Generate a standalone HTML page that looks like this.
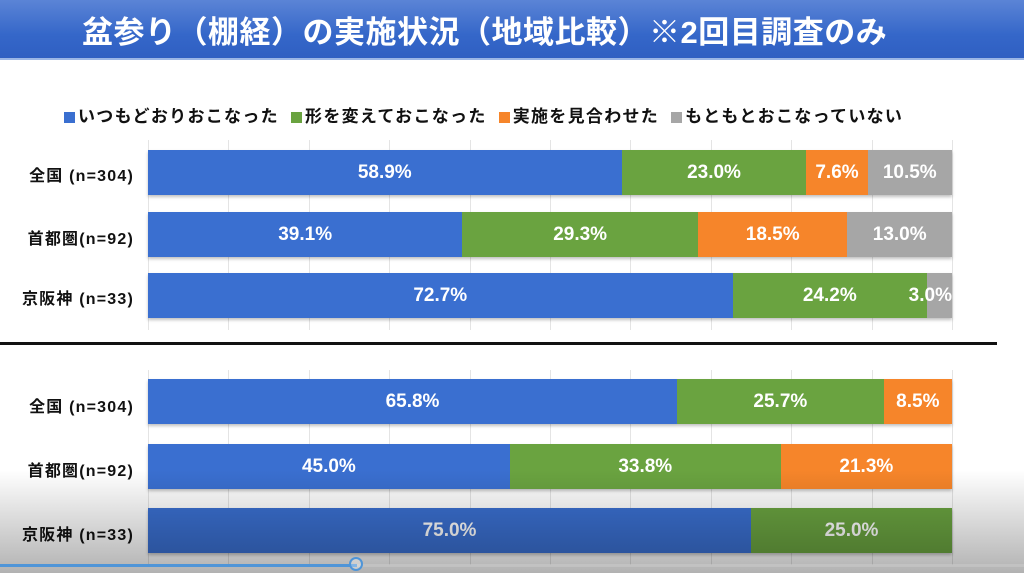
<!DOCTYPE html>
<html><head><meta charset="utf-8"><style>
body{margin:0;width:1024px;height:573px;overflow:hidden;background:#fff;position:relative;font-family:"Liberation Sans","Noto Sans CJK JP",sans-serif}
.title{position:absolute;left:0;top:0;width:1024px;height:58px;background:linear-gradient(#5b84d6,#3567c9 60%,#2f5fc2);border-bottom:2px solid #9bb6e6}
.title span{position:absolute;left:82px;top:7px;color:#fff;font-size:31px;font-weight:bold;letter-spacing:0.5px}
.legend{position:absolute;top:102px;left:64px;font-size:17px;font-weight:bold;color:#111;white-space:nowrap;letter-spacing:1.3px}
.legend i{display:inline-block;width:11px;height:11px;margin-right:3px;vertical-align:-1px}
.grid{position:absolute;top:140px;height:190px;width:1px;background:#e4e4e4}
.grid2{position:absolute;top:370px;height:195px;width:1px;background:#e4e4e4}
.row{position:absolute;left:148px;width:804px;height:45px;display:flex;box-shadow:0 2px 3px rgba(0,0,0,.25)}
.row div{height:100%;color:#fff;font-weight:bold;font-size:19px;display:flex;align-items:center;justify-content:center;white-space:nowrap}
.b{background:#3a6fd0}.g{background:#6aa340}.o{background:#f6852a}.y{background:#a6a6a6}
.lab{position:absolute;right:890px;font-size:16px;font-weight:bold;color:#111;white-space:nowrap;letter-spacing:1.2px}
.ov{position:absolute;left:0;top:470px;width:1024px;height:103px;background:linear-gradient(rgba(0,0,0,0),rgba(0,0,0,.3))}
</style></head><body>
<div class="title"><span>盆参り（棚経）の実施状況（地域比較）※2回目調査のみ</span></div>
<div class="legend"><i class="b"></i>いつもどおりおこなった &nbsp;<i class="g"></i>形を変えておこなった &nbsp;<i class="o"></i>実施を見合わせた &nbsp;<i class="y"></i>もともとおこなっていない</div>
<div class="grid" style="left:148px"></div><div class="grid" style="left:228px"></div><div class="grid" style="left:309px"></div><div class="grid" style="left:389px"></div><div class="grid" style="left:470px"></div><div class="grid" style="left:550px"></div><div class="grid" style="left:630px"></div><div class="grid" style="left:711px"></div><div class="grid" style="left:791px"></div><div class="grid" style="left:872px"></div><div class="grid" style="left:952px"></div>
<div class="grid2" style="left:148px"></div><div class="grid2" style="left:228px"></div><div class="grid2" style="left:309px"></div><div class="grid2" style="left:389px"></div><div class="grid2" style="left:470px"></div><div class="grid2" style="left:550px"></div><div class="grid2" style="left:630px"></div><div class="grid2" style="left:711px"></div><div class="grid2" style="left:791px"></div><div class="grid2" style="left:872px"></div><div class="grid2" style="left:952px"></div>

<div class="lab" style="top:162px">全国 (n=304)</div>
<div class="row" style="top:150px"><div class="b" style="width:58.9%">58.9%</div><div class="g" style="width:23%">23.0%</div><div class="o" style="width:7.6%">7.6%</div><div class="y" style="width:10.5%">10.5%</div></div>
<div class="lab" style="top:225px">首都圏(n=92)</div>
<div class="row" style="top:212px"><div class="b" style="width:39.1%">39.1%</div><div class="g" style="width:29.3%">29.3%</div><div class="o" style="width:18.6%">18.5%</div><div class="y" style="width:13%">13.0%</div></div>
<div class="lab" style="top:285px">京阪神 (n=33)</div>
<div class="row" style="top:273px"><div class="b" style="width:72.7%">72.7%</div><div class="g" style="width:24.2%">24.2%</div><div class="y" style="width:3.1%;position:relative"><span style="position:absolute;right:0">3.0%</span></div></div>

<div style="position:absolute;left:0;top:342px;width:997px;height:3px;background:#111"></div>

<div class="lab" style="top:393px">全国 (n=304)</div>
<div class="row" style="top:379px"><div class="b" style="width:65.8%">65.8%</div><div class="g" style="width:25.7%">25.7%</div><div class="o" style="width:8.5%">8.5%</div></div>
<div class="lab" style="top:457px">首都圏(n=92)</div>
<div class="row" style="top:444px"><div class="b" style="width:45%">45.0%</div><div class="g" style="width:33.7%">33.8%</div><div class="o" style="width:21.3%">21.3%</div></div>
<div class="lab" style="top:521px">京阪神 (n=33)</div>
<div class="row" style="top:508px"><div class="b" style="width:75%">75.0%</div><div class="g" style="width:25%">25.0%</div></div>

<div class="ov"></div>
<div style="position:absolute;left:0;top:564px;width:1024px;height:3px;background:rgba(200,200,200,.6)"></div>
<div style="position:absolute;left:0;top:564px;width:357px;height:3px;background:#4f95d8"></div>
<div style="position:absolute;left:349px;top:557px;width:14px;height:14px;border:2px solid #4f95d8;border-radius:50%;box-sizing:border-box;background:rgba(255,255,255,.3)"></div>
</body></html>
